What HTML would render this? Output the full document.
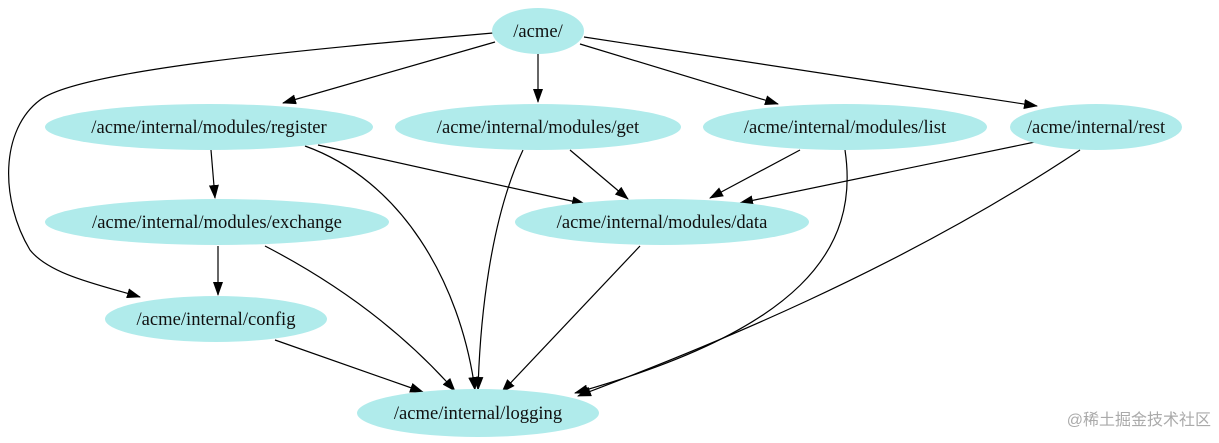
<!DOCTYPE html>
<html><head><meta charset="utf-8"><style>
html,body{margin:0;padding:0;background:#fff;width:1219px;height:443px;overflow:hidden}
text{font-family:"Liberation Serif",serif;font-size:18.6px;fill:#111}
</style></head><body>
<svg width="1219" height="443" viewBox="0 0 1219 443" xmlns="http://www.w3.org/2000/svg">
<defs><marker id="a" markerWidth="14" markerHeight="10" refX="13" refY="5" orient="auto" markerUnits="userSpaceOnUse"><path d="M0,0 L14,5 L0,10 z" fill="#000"/></marker></defs>
<g fill="none" stroke="#000" stroke-width="1.2" marker-end="url(#a)">
<path d="M495,42 L283,103"/>
<path d="M538,54 L538,102"/>
<path d="M580,44 L778,104"/>
<path d="M584,37 L1037,106"/>
<path d="M493,33 C300,50 80,70 40,100 C0,130 0,200 30,250 C50,275 100,285 140,297"/>
<path d="M211,150 L215,198"/>
<path d="M318,145 L585,204"/>
<path d="M305,146 C400,180 460,280 475,390"/>
<path d="M523,150 C490,220 480,320 478,390"/>
<path d="M570,150 L628,199"/>
<path d="M800,150 L710,198"/>
<path d="M845,150 C860,250 800,330 575,393"/>
<path d="M1035,142 L740,203"/>
<path d="M1080,150 C900,270 700,350 578,396"/>
<path d="M218,246 L218,295"/>
<path d="M265,246 C350,290 410,340 455,391"/>
<path d="M640,246 L502,392"/>
<path d="M275,340 L423,392"/>
</g>
<g fill="#b0ebeb">
<ellipse cx="538" cy="31" rx="46" ry="23"/>
<ellipse cx="209" cy="127" rx="164" ry="23"/>
<ellipse cx="538" cy="127" rx="143" ry="23"/>
<ellipse cx="845" cy="127" rx="142" ry="23"/>
<ellipse cx="1096" cy="127" rx="86" ry="23"/>
<ellipse cx="217" cy="222" rx="172" ry="23"/>
<ellipse cx="662" cy="222" rx="147" ry="23"/>
<ellipse cx="216" cy="319" rx="111" ry="23"/>
<ellipse cx="478" cy="413" rx="121" ry="24"/>
</g>
<g text-anchor="middle">
<text x="538" y="37">/acme/</text>
<text x="209" y="133">/acme/internal/modules/register</text>
<text x="538" y="133">/acme/internal/modules/get</text>
<text x="845" y="133">/acme/internal/modules/list</text>
<text x="1096" y="133">/acme/internal/rest</text>
<text x="217" y="228">/acme/internal/modules/exchange</text>
<text x="662" y="228">/acme/internal/modules/data</text>
<text x="216" y="325">/acme/internal/config</text>
<text x="478" y="419">/acme/internal/logging</text>
</g>
<text x="1211" y="425" text-anchor="end" style="font-family:'Liberation Sans','Noto Sans CJK SC',sans-serif;font-size:16px;fill:#aaa">@稀土掘金技术社区</text>
</svg>
</body></html>
